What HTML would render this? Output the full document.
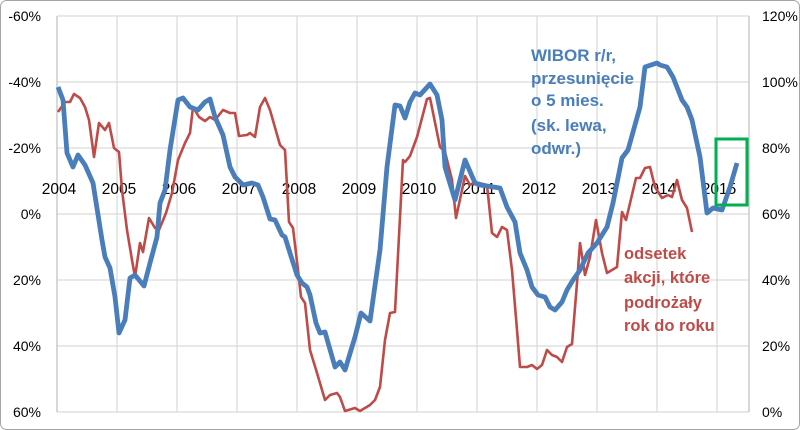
<!DOCTYPE html>
<html><head><meta charset="utf-8"><style>
html,body{margin:0;padding:0;background:#fff;}
svg{display:block;font-family:"Liberation Sans",sans-serif;}
</style></head><body>
<svg width="800" height="430" viewBox="0 0 800 430" xmlns="http://www.w3.org/2000/svg">
<rect x="0.5" y="0.5" width="799" height="429" rx="6" fill="#fff" stroke="#a6a6a6"/>
<g stroke="#d9d9d9" stroke-width="1.2">
<line x1="57" y1="16" x2="749" y2="16"/><line x1="57" y1="82" x2="749" y2="82"/>
<line x1="57" y1="148" x2="749" y2="148"/><line x1="57" y1="214" x2="749" y2="214"/>
<line x1="57" y1="280" x2="749" y2="280"/><line x1="57" y1="346" x2="749" y2="346"/>
<line x1="57" y1="412" x2="749" y2="412"/>
<line x1="117" y1="16" x2="117" y2="412"/><line x1="177" y1="16" x2="177" y2="412"/>
<line x1="237" y1="16" x2="237" y2="412"/><line x1="297" y1="16" x2="297" y2="412"/>
<line x1="357" y1="16" x2="357" y2="412"/><line x1="417" y1="16" x2="417" y2="412"/>
<line x1="477" y1="16" x2="477" y2="412"/><line x1="537" y1="16" x2="537" y2="412"/>
<line x1="597" y1="16" x2="597" y2="412"/><line x1="657" y1="16" x2="657" y2="412"/>
<line x1="717" y1="16" x2="717" y2="412"/>
</g>
<line x1="57" y1="16" x2="57" y2="412" stroke="#bfbfbf" stroke-width="1.2"/>
<line x1="749" y1="16" x2="749" y2="412" stroke="#bfbfbf" stroke-width="1.2"/>
<g font-size="14" fill="#000" text-anchor="end">
<text x="41" y="21">-60%</text><text x="41" y="87">-40%</text><text x="41" y="153">-20%</text>
<text x="41" y="219">0%</text><text x="41" y="285">20%</text><text x="41" y="351">40%</text><text x="41" y="417">60%</text>
</g>
<g font-size="14" fill="#000" text-anchor="start">
<text x="762" y="21">120%</text><text x="762" y="87">100%</text><text x="762" y="153">80%</text>
<text x="762" y="219">60%</text><text x="762" y="285">40%</text><text x="762" y="351">20%</text><text x="762" y="417">0%</text>
</g>
<g font-size="15.5" fill="#000" text-anchor="middle">
<text x="59" y="194">2004</text><text x="119" y="194">2005</text><text x="179" y="194">2006</text>
<text x="239" y="194">2007</text><text x="299" y="194">2008</text><text x="359" y="194">2009</text>
<text x="419" y="194">2010</text><text x="479" y="194">2011</text><text x="539" y="194">2012</text>
<text x="599" y="194">2013</text><text x="659" y="194">2014</text><text x="719" y="194">2015</text>
</g>
<polyline fill="none" stroke="#be4b48" stroke-width="2.6" stroke-linejoin="round" points="58,112 65,102 70,102 74,94 80,98 85,107 89,120 94,157 99,123 105,130 109,123 114,148 119,152 122,190 127,230 132,260 135,277 140,243 143,252 149,218 155,228 159,230 166,213 172,193 178,160 185,143 190,133 193,107 199,117 205,121 210,117 215,120 223,110 230,113 235,113 239,136 247,135 250,133 255,137 260,107 265,98 270,110 280,145 285,150 289,222 293,228 298,270 301,297 305,303 310,350 317,373 325,400 330,395 337,393 340,397 345,411 355,408 360,411 370,405 375,400 380,387 385,340 390,313 395,312 403,160 405,162 410,156 417,137 427,99 430,98 440,147 445,152 452,180 456,218 465,176 470,185 475,182 487,185 492,233 497,237 502,227 507,230 512,270 517,330 520,367 527,367 532,365 537,369 542,365 547,350 552,355 557,357 562,362 567,347 572,344 577,283 580,243 585,275 590,257 596,220 602,253 607,273 617,267 622,212 626,220 636,178 640,178 645,168 650,167 655,187 662,198 668,195 672,197 677,180 682,200 687,208 692,232"/>
<polyline fill="none" stroke="#4a7ebb" stroke-width="4.8" stroke-linejoin="round" points="58,87 63,100 67,153 73,167 78,155 85,165 93,183 102,240 105,257 110,268 115,297 119,333 125,320 130,278 135,275 144,286 150,263 157,237 160,203 165,190 170,150 178,100 183,98 190,107 198,110 205,102 210,99 215,117 223,135 230,167 235,177 243,185 252,183 258,185 263,197 270,219 275,220 282,235 285,237 290,253 297,275 302,283 307,287 310,295 316,323 320,333 325,332 335,367 340,362 345,370 355,337 361,313 370,321 380,250 387,167 395,105 400,106 405,118 410,102 415,93 420,95 430,84 437,95 442,120 445,167 455,200 460,180 465,160 475,183 480,185 500,188 507,207 515,222 520,253 527,270 532,287 538,295 545,297 550,307 555,310 562,302 567,290 573,280 580,270 588,253 597,243 607,227 613,203 622,158 628,150 640,107 645,67 657,63 660,65 667,67 673,77 682,100 687,107 692,120 700,157 707,213 713,208 722,210 730,187 737,163"/>
<rect x="716" y="139" width="31" height="66" fill="none" stroke="#00b050" stroke-width="3"/>
<g font-size="17" font-weight="bold" fill="#4a7ebb">
<text x="531" y="61">WIBOR r/r,</text><text x="531" y="84">przesunięcie</text>
<text x="531" y="106">o 5 mies.</text><text x="531" y="131">(sk. lewa,</text><text x="531" y="154">odwr.)</text>
</g>
<g font-size="16.5" font-weight="bold" fill="#be4b48">
<text x="624" y="259">odsetek</text><text x="624" y="283">akcji, które</text>
<text x="624" y="308">podrożały</text><text x="624" y="331">rok do roku</text>
</g>
</svg>
</body></html>
